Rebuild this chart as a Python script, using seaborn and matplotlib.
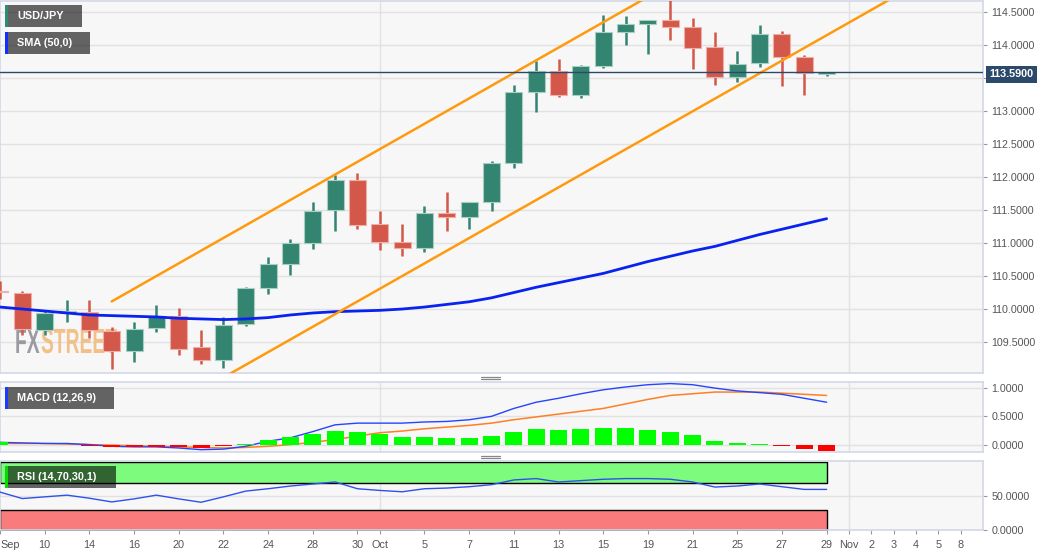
import numpy as np
import matplotlib
matplotlib.use("Agg")
import matplotlib.pyplot as plt
import seaborn as sns
from matplotlib.patches import Rectangle, PathPatch
from matplotlib.lines import Line2D
from matplotlib.textpath import TextPath
from matplotlib.font_manager import FontProperties
from matplotlib.transforms import Affine2D, offset_copy
from matplotlib.ticker import FormatStrFormatter, FuncFormatter

# --- data (daily USD/JPY, Sep 8 -> Oct 29, one row per trading day) ---
open_ = [110.28, 110.242, 109.686, 109.944, 109.955, 109.671, 109.368, 109.712, 109.898, 109.418,
         109.221, 109.773, 110.318, 110.686, 111.0, 111.504, 111.959, 111.292, 111.009, 110.924,
         111.455, 111.394, 111.621, 112.212, 113.288, 113.611, 113.247, 113.686, 114.206, 114.323,
         114.383, 114.282, 113.979, 113.524, 113.727, 114.167, 113.827, 113.57]
high = [110.43, 110.267, 109.99, 110.14, 110.14, 109.732, 109.803, 110.065, 110.015, 109.686,
        109.879, 110.333, 110.782, 111.06, 111.63, 112.035, 112.07, 111.479, 111.292, 111.555,
        111.782, 111.63, 112.247, 113.398, 113.762, 113.792, 113.702, 114.459, 114.444, 114.39,
        114.70, 114.41, 114.206, 113.914, 114.308, 114.217, 113.853, 113.60]
low = [110.15, 109.611, 109.61, 109.807, 109.565, 109.095, 109.19, 109.652, 109.297, 109.167,
       109.106, 109.736, 110.232, 110.52, 110.914, 111.19, 111.21, 110.888, 110.808, 110.858,
       111.19, 111.217, 111.49, 112.145, 112.994, 113.221, 113.206, 113.66, 114.005, 113.868,
       114.08, 113.641, 113.398, 113.448, 113.676, 113.388, 113.247, 113.535]
close = [110.26, 109.697, 109.94, 109.974, 109.686, 109.358, 109.702, 109.888, 109.398, 109.221,
         109.762, 110.318, 110.686, 111.0, 111.494, 111.959, 111.277, 111.015, 110.924, 111.455,
         111.403, 111.621, 112.212, 113.288, 113.611, 113.247, 113.686, 114.206, 114.323, 114.383,
         114.282, 113.964, 113.524, 113.717, 114.167, 113.827, 113.576, 113.59]
sma50 = [110.03, 110.00, 109.97, 109.94, 109.91, 109.90, 109.89, 109.88, 109.86, 109.85,
         109.84, 109.85, 109.87, 109.91, 109.94, 109.96, 109.97, 109.98, 110.00, 110.03,
         110.07, 110.11, 110.17, 110.25, 110.33, 110.40, 110.47, 110.54, 110.63, 110.72,
         110.80, 110.88, 110.95, 111.04, 111.13, 111.21, 111.29, 111.37]
macd_line = [0.04, 0.03, 0.02, 0.02, 0.00, -0.03, -0.04, -0.04, -0.06, -0.09,
             -0.08, -0.03, 0.06, 0.12, 0.23, 0.35, 0.38, 0.38, 0.38, 0.40,
             0.41, 0.44, 0.50, 0.64, 0.75, 0.82, 0.90, 0.97, 1.02, 1.06,
             1.08, 1.06, 1.00, 0.95, 0.92, 0.89, 0.82, 0.75]
macd_signal = [0.02, 0.02, 0.02, 0.01, 0.00, -0.01, -0.02, -0.03, -0.04, -0.05,
               -0.06, -0.05, -0.03, 0.00, 0.04, 0.09, 0.15, 0.21, 0.24, 0.28,
               0.31, 0.34, 0.38, 0.44, 0.49, 0.54, 0.59, 0.64, 0.72, 0.80,
               0.87, 0.90, 0.93, 0.93, 0.93, 0.91, 0.89, 0.87]
macd_hist = [0.048, 0.0, 0.0, 0.0, -0.03, -0.04, -0.036, -0.036, -0.04, -0.065,
             -0.03, 0.012, 0.084, 0.132, 0.19, 0.246, 0.222, 0.18, 0.138, 0.138,
             0.12, 0.114, 0.144, 0.216, 0.27, 0.264, 0.27, 0.288, 0.288, 0.264,
             0.222, 0.162, 0.072, 0.024, 0.006, -0.03, -0.072, -0.108]
rsi = [56, 46.5, 49, 51.5, 47, 41.5, 46, 51.5, 46, 41,
       49, 57.5, 61, 65, 68, 71, 61, 58.5, 56.5, 61,
       62, 64, 67, 74, 76, 71, 73, 75, 76, 76,
       75, 71, 63.5, 65, 68, 64, 60, 60]
last_price = 113.59

# channel drawn on the chart (trading-day index, price)
channel_upper_x = [5.0, 29.5]
channel_upper_y = [110.115, 114.83]
channel_lower_x = [10.0, 40.5]
channel_lower_y = [108.962, 114.824]

tick_pos = [0, 2, 4, 6, 8, 10, 12, 14, 16, 17, 19, 21, 23, 25, 27, 29, 31, 33, 35, 37,
            38, 39, 40, 41, 42, 43]
tick_text = ["Sep", "10", "14", "16", "20", "22", "24", "28", "30", "Oct", "5", "7", "11",
             "13", "15", "19", "21", "25", "27", "29", "Nov", "2", "3", "4", "5", "8"]
month_starts = [17, 38]

idx = np.arange(len(close))
o, h, l, c = map(np.array, (open_, high, low, close))

# --- style ---
sns.set_theme(style="white")
plt.rcParams["font.family"] = ["Liberation Sans", "DejaVu Sans"]
UP, DOWN = "#338470", "#d3584a"
UP_EDGE, DOWN_EDGE = "#a9cfc3", "#eeb0a6"
PANEL = "#f7f7f7"
GRID = "#e2e2e2"
BORDER = "#d3d8e8"

W, H = 1060, 555
fig = plt.figure(figsize=(W / 100, H / 100), dpi=100, facecolor="white")


def rect(x0, y0, x1, y1):
    return [x0 / W, 1 - y1 / H, (x1 - x0) / W, (y1 - y0) / H]


ax = fig.add_axes(rect(0, 1, 983, 373))
ax_macd = fig.add_axes(rect(0, 382, 983, 452), sharex=ax)
ax_rsi = fig.add_axes(rect(0, 461, 983, 530), sharex=ax)

for a in (ax, ax_macd, ax_rsi):
    a.set_facecolor(PANEL)
    for s in a.spines.values():
        s.set_color(BORDER)
        s.set_linewidth(1.2)
    a.yaxis.tick_right()
    a.tick_params(axis="y", labelsize=7.7, labelcolor="#555555", color="#999999",
                  length=3, width=0.8, pad=3, right=True, left=False)
    a.grid(axis="y", color=GRID, lw=1)
    a.set_axisbelow(True)
    for m in month_starts:
        a.axvline(m, color=GRID, lw=1, zorder=0)

# --- main price panel ---
up = c >= o
col = np.where(up, UP, DOWN)
edge = np.where(up, UP_EDGE, DOWN_EDGE)
ax.vlines(idx, l, h, color=col, lw=1.8, zorder=3)
body_lo = np.minimum(o, c)
body_h = np.maximum(np.abs(c - o), 0.012)
ax.bar(idx, body_h, bottom=body_lo, width=0.76, color=col, edgecolor=edge, lw=0.8, zorder=4)

sns.lineplot(x=idx, y=sma50, ax=ax, color="#0a22f0", lw=2, zorder=5)
ax.plot(channel_upper_x, channel_upper_y, color="#ff9a0e", lw=1.8, zorder=6)
ax.plot(channel_lower_x, channel_lower_y, color="#ff9a0e", lw=1.8, zorder=6)

ax.axhline(last_price, color="#2b4a6b", lw=1, zorder=7)
box_tr = offset_copy(ax.get_yaxis_transform(), fig=fig, x=0, y=-2, units="dots")
ax.text(1.0065, last_price, f"{last_price:.4f}", transform=box_tr,
        ha="left", va="center", color="white", fontsize=7.8, fontweight="bold",
        bbox=dict(boxstyle="square,pad=0.3", fc="#2b4a6b", ec="none"), clip_on=False, zorder=10)

ax.set_xlim(0, 44.0)
ax.set_ylim(109.03, 114.671)
ax.set_yticks(np.arange(109.5, 114.51, 0.5))
# the 113.5 label sits under the last-price box
ax.yaxis.set_major_formatter(FuncFormatter(lambda v, p: "" if abs(v - 113.5) < 1e-6 else f"{v:.4f}"))
ax.tick_params(axis="x", bottom=False, labelbottom=False)
ax.set_xlabel("")
ax.set_ylabel("")

# watermark
fp = FontProperties(family="Liberation Sans", weight="bold")
for word, x0, color in (("FX", 15, "#8b8b95"), ("STREET", 41, "#f2b877")):
    tp = TextPath((0, 0), word, size=35, prop=fp)
    tr = Affine2D().scale(0.55, 1.0).translate(x0, H - 353)
    ax.add_artist(PathPatch(tp, transform=tr, fc=color, ec="none", alpha=0.85, zorder=1))

# --- MACD panel ---
hist = np.array(macd_hist)
sns.lineplot(x=idx, y=macd_signal, ax=ax_macd, color="#ff7f24", lw=1.1, zorder=3)
sns.lineplot(x=idx, y=macd_line, ax=ax_macd, color="#2644ff", lw=1.0, zorder=4)
ax_macd.bar(idx, hist, width=0.76, color=np.where(hist >= 0, "#00ff00", "#ff0000"),
            lw=0, zorder=5)
ax_macd.set_ylim(-0.131, 1.108)
ax_macd.set_yticks([0, 0.5, 1.0])
ax_macd.yaxis.set_major_formatter(FormatStrFormatter("%.4f"))
ax_macd.tick_params(axis="x", bottom=False, labelbottom=False)
ax_macd.set_xlabel("")
ax_macd.set_ylabel("")

# --- RSI panel ---
ax_rsi.fill_between([idx[0], idx[-1]], 70, 100, color="#7dfb7d", ec="black", lw=1, zorder=1)
ax_rsi.fill_between([idx[0], idx[-1]], 0, 30, color="#fa7b7b", ec="black", lw=1, zorder=1)
sns.lineplot(x=idx, y=rsi, ax=ax_rsi, color="#3050ee", lw=1.0, zorder=3)
ax_rsi.set_ylim(0, 102)
ax_rsi.set_yticks([0, 50])
ax_rsi.yaxis.set_major_formatter(FormatStrFormatter("%.4f"))
ax_rsi.set_xticks(tick_pos, tick_text)
ax_rsi.tick_params(axis="x", bottom=True, length=3, width=0.8, color="#999999",
                   labelsize=7.8, labelcolor="#555555", pad=4)
ax_rsi.get_xticklabels()[0].set_ha("left")
ax_rsi.set_xlim(0, 44.0)
ax_rsi.set_xlabel("")
ax_rsi.set_ylabel("")


# --- legend tags (translucent dark boxes) ---
def tag(x0, y0, x1, y1, text, bar):
    fig.add_artist(Rectangle((x0 / W, 1 - y1 / H), (x1 - x0) / W, (y1 - y0) / H,
                             transform=fig.transFigure, fc="black", alpha=0.6, ec="none", zorder=20))
    fig.add_artist(Rectangle((x0 / W, 1 - y1 / H), 3 / W, (y1 - y0) / H,
                             transform=fig.transFigure, fc=bar, ec="none", zorder=21))
    fig.text((x0 + 12) / W, 1 - (y0 + y1) / 2 / H, text, color="white", fontsize=7.8,
             fontweight="bold", ha="left", va="center", zorder=22)


tag(5, 5, 82, 27, "USD/JPY", "#2e8b70")
tag(5, 32, 90, 54, "SMA (50,0)", "#1030ff")
tag(5, 387, 114, 409, "MACD (12,26,9)", "#1a3cff")
tag(5, 466, 116, 488, "RSI (14,70,30,1)", "#00dd00")

# panel resize handles
for yy in (376.5, 378.8, 455.8, 458.1):
    fig.add_artist(Line2D([481 / W, 500 / W], [1 - yy / H, 1 - yy / H],
                          transform=fig.transFigure, color="#888888", lw=0.9))

fig.savefig("out.png", dpi=100, facecolor="white")
